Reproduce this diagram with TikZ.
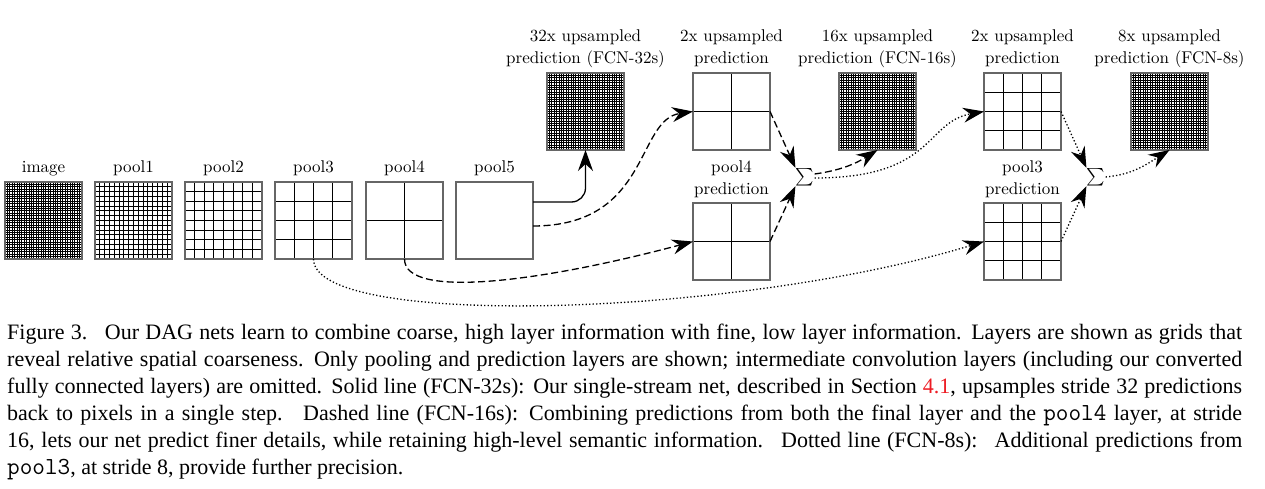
\documentclass[tikz,border=0pt]{standalone}
\usepackage{fontspec}
\usetikzlibrary{arrows.meta}
\newfontfamily\capfont{Liberation Serif}
\definecolor{linkred}{RGB}{237,28,36}
\tikzset{
  gridbox/.style={draw=black!60, line width=1.2pt, inner sep=0pt, outer sep=0pt, minimum size=77pt, anchor=north west},
  gridline/.style={line width=0.9pt, black},
  lbl/.style={font=\fontsize{10}{12.65}\selectfont, align=center, inner sep=0pt, anchor=base, scale=1.7},
  conn/.style={line width=1.3pt, -{Stealth[length=21pt,width=15pt,inset=7pt]}},
  solidconn/.style={conn},
  dashconn/.style={conn, dash pattern=on 7pt off 3.5pt},
  dotconn/.style={conn, dash pattern=on 1.3pt off 2.2pt},
  sumnode/.style={inner sep=0pt, scale=1.75},
  capline/.style={anchor=base west, inner sep=0pt, font=\capfont\fontsize{22}{27}\selectfont},
}
\newcommand\capmono[1]{{\ttfamily\fontsize{24.5}{27}\selectfont #1}}
\newcommand\xsp{\hspace{0.35em}}
\newcommand\drawgrid[4]{%
  \pgfmathsetmacro\gstep{77/#4}%
  \ifnum#4>1
    \foreach \k in {2,...,#4}{
      \draw[gridline] ({#2+(\k-1)*\gstep},{-#3}) -- ({#2+(\k-1)*\gstep},{-#3-77});
      \draw[gridline] (#2,{-#3-(\k-1)*\gstep}) -- ({#2+77},{-#3-(\k-1)*\gstep});
    }
  \fi
  \node[gridbox] (#1) at (#2,-#3) {};
}
\begin{document}
\begin{tikzpicture}[x=1pt,y=1pt]
\useasboundingbox (0,0) rectangle (1265,-489);
% bottom row
\drawgrid{image}{5}{182}{32}
\drawgrid{pool1}{95}{182}{16}
\drawgrid{pool2}{185}{182}{8}
\drawgrid{pool3}{275}{182}{4}
\drawgrid{pool4}{366}{182}{2}
\drawgrid{pool5}{456}{182}{1}
% upper row and predictions
\drawgrid{up32}{547}{73}{32}
\drawgrid{up2a}{693}{73}{2}
\drawgrid{p4pred}{693}{203}{2}
\drawgrid{up16}{839}{73}{32}
\drawgrid{up2b}{984}{73}{4}
\drawgrid{p3pred}{984}{203}{4}
\drawgrid{up8}{1131}{73}{32}
% labels
\node[lbl] (limage) at (43.5,-172) {image};
\node[lbl] (lpool1) at (133.5,-172) {pool1};
\node[lbl] (lpool2) at (223.5,-172) {pool2};
\node[lbl] (lpool3) at (313.5,-172) {pool3};
\node[lbl] (lpool4) at (404.5,-172) {pool4};
\node[lbl] (lpool5) at (494.5,-172) {pool5};
\node[lbl] (lup32) at (585.5,-63.5) {32x upsampled\\prediction (FCN-32s)};
\node[lbl] (lup2a) at (731.5,-63.5) {2x upsampled\\prediction};
\node[lbl] (lp4pred) at (731.5,-194) {pool4\\prediction};
\node[lbl] (lup16) at (877.5,-63.5) {16x upsampled\\prediction (FCN-16s)};
\node[lbl] (lup2b) at (1022.5,-63.5) {2x upsampled\\prediction};
\node[lbl] (lp3pred) at (1022.5,-194) {pool3\\prediction};
\node[lbl] (lup8) at (1169.5,-63.5) {8x upsampled\\prediction (FCN-8s)};
% sums
\node[sumnode] (s1) at (805,-177) {$\sum$};
\node[sumnode] (s2) at (1096,-177) {$\sum$};
% solid (FCN-32s)
\draw[solidconn, rounded corners=14pt] ([yshift=18.5pt]pool5.east) -| (up32.south);
% dashed (FCN-16s)
\draw[dashconn] ([yshift=-5.5pt]pool5.east) .. controls (650,-226) and (636,-120) .. (up2a.west);
\draw[dashconn] (pool4.south) .. controls +(0,-41) and +(-150,-40) .. (p4pred.west);
\draw[dashconn] (up2a.east) -- (s1.north west);
\draw[dashconn] (p4pred.east) -- (s1.south west);
\draw[dashconn] ([yshift=3pt]s1.east) to[out=8,in=212] (up16.south);
% dotted (FCN-8s)
\draw[dotconn] ([yshift=-1pt]s1.east) .. controls (935,-178) and (925,-122) .. (up2b.west);
\draw[dotconn] (pool3.south) .. controls +(0,-70) and +(-250,-76) .. (p3pred.west);
\draw[dotconn] (up2b.east) -- (s2.north west);
\draw[dotconn] (p3pred.east) -- (s2.south west);
\draw[dotconn] (s2.east) to[out=5,in=212] (up8.south);
% caption
\node[capline] (c1) at (7,-339) {\makebox[1235pt][s]{Figure 3.\xsp{} Our DAG nets learn to combine coarse, high layer information with fine, low layer information. Layers are shown as grids that}};
\node[capline] (c2) at (7,-366) {\makebox[1235pt][s]{reveal relative spatial coarseness. Only pooling and prediction layers are shown; intermediate convolution layers (including our converted}};
\node[capline] (c3) at (7,-393) {\makebox[1235pt][s]{fully connected layers) are omitted. Solid line (FCN-32s): Our single-stream net, described in Section \textcolor{linkred}{4.1}, upsamples stride 32 predictions}};
\node[capline] (c4) at (7,-420) {\makebox[1235pt][s]{back to pixels in a single step.\xsp{} Dashed line (FCN-16s): Combining predictions from both the final layer and the \capmono{pool4} layer, at stride}};
\node[capline] (c5) at (7,-447) {\makebox[1235pt][s]{16, lets our net predict finer details, while retaining high-level semantic information.\xsp{} Dotted line (FCN-8s):\xsp{} Additional predictions from}};
\node[capline] (c6) at (7,-474) {\capmono{pool3}, at stride 8, provide further precision.};
\end{tikzpicture}
\end{document}
